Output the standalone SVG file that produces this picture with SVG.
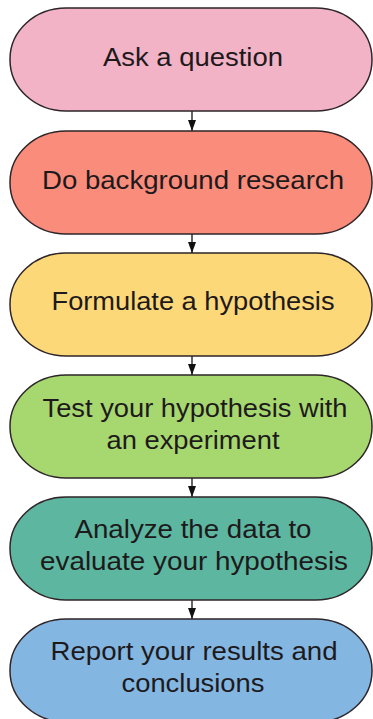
<svg xmlns="http://www.w3.org/2000/svg" width="373" height="719" viewBox="0 0 373 719">
  <defs>
    <style>
      .step { stroke: #2e2528; stroke-width: 1.5; }
      .label { font-family: "Liberation Sans", Arial, sans-serif; font-size: 25px; fill: #1e1a1c; text-anchor: middle; }
      .wire { stroke: #111; stroke-width: 1.3; fill: none; }
    </style>
    <!-- arrowhead drawn along +x so orient="auto" points it down the line -->
    <marker id="head" markerWidth="11" markerHeight="8" refX="11" refY="4" orient="auto" markerUnits="userSpaceOnUse" viewBox="0 0 11 8">
      <path d="M0,0 L11,4 L0,8 Z" fill="#111"/>
    </marker>
  </defs>
  <rect width="373" height="719" fill="#ffffff"/>

  <g id="connectors">
    <line class="wire" x1="192" y1="111" x2="192" y2="131" marker-end="url(#head)"/>
    <line class="wire" x1="192" y1="234" x2="192" y2="253" marker-end="url(#head)"/>
    <line class="wire" x1="192" y1="356" x2="192" y2="375" marker-end="url(#head)"/>
    <line class="wire" x1="192" y1="478" x2="192" y2="497" marker-end="url(#head)"/>
    <line class="wire" x1="192" y1="600" x2="192" y2="619" marker-end="url(#head)"/>
  </g>

  <g id="ask">
    <rect class="step" x="10" y="8" width="362" height="103" rx="56" ry="51" fill="#f2b3c7"/>
    <text class="label" x="193" y="66" textLength="180" lengthAdjust="spacingAndGlyphs">Ask a question</text>
  </g>

  <g id="research">
    <rect class="step" x="10" y="131" width="362" height="103" rx="56" ry="51" fill="#fa8c7b"/>
    <text class="label" x="193" y="189" textLength="302" lengthAdjust="spacingAndGlyphs">Do background research</text>
  </g>

  <g id="hypothesis">
    <rect class="step" x="10" y="253" width="362" height="103" rx="56" ry="51" fill="#fdd878"/>
    <text class="label" x="193" y="310" textLength="283" lengthAdjust="spacingAndGlyphs">Formulate a hypothesis</text>
  </g>

  <g id="experiment">
    <rect class="step" x="10" y="375" width="362" height="103" rx="56" ry="51" fill="#a7d870"/>
    <text class="label" x="195" y="417" textLength="305" lengthAdjust="spacingAndGlyphs">Test your hypothesis with</text>
    <text class="label" x="193" y="449" textLength="173" lengthAdjust="spacingAndGlyphs">an experiment</text>
  </g>

  <g id="analyze">
    <rect class="step" x="10" y="497" width="362" height="103" rx="56" ry="51" fill="#5db6a0"/>
    <text class="label" x="193" y="538" textLength="237" lengthAdjust="spacingAndGlyphs">Analyze the data to</text>
    <text class="label" x="194" y="570" textLength="308" lengthAdjust="spacingAndGlyphs">evaluate your hypothesis</text>
  </g>

  <g id="report">
    <rect class="step" x="10" y="619" width="362" height="103" rx="56" ry="51" fill="#84b6e2"/>
    <text class="label" x="194" y="660" textLength="287" lengthAdjust="spacingAndGlyphs">Report your results and</text>
    <text class="label" x="193" y="692" textLength="143" lengthAdjust="spacingAndGlyphs">conclusions</text>
  </g>
</svg>
